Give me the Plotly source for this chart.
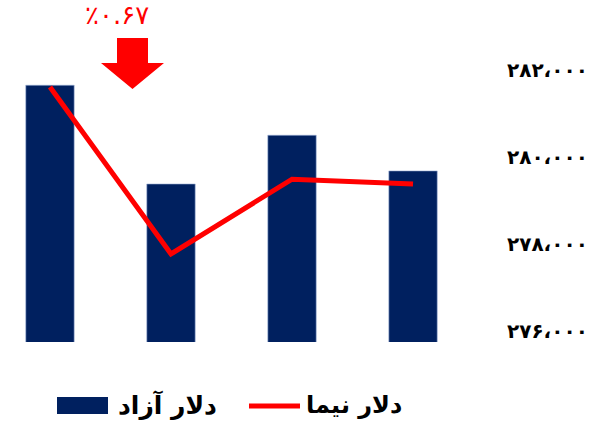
import plotly.graph_objects as go

# Four consecutive periods
periods = [0, 1, 2, 3]

# Free-market dollar (bars) and NIMA dollar (line), in rials
azad_values = [281650, 279380, 280500, 279680]
nima_values = [281610, 277770, 279490, 279380]

# Right-axis ticks
tick_values = [276000, 278000, 280000, 282000]
tick_labels = ["۲۷۶،۰۰۰", "۲۷۸،۰۰۰", "۲۸۰،۰۰۰", "۲۸۲،۰۰۰"]

legend_names = ["دلار آزاد", "دلار نیما"]
change_label = "٪۰.۶۷"

NAVY = "#00205F"
RED = "#FF0000"

W, H = 602, 433
L, R, T, B = 0, 490, 40, 342  # plot area in pixels


def px(x):
    return (x - L) / (R - L)


def py(y):
    return (B - y) / (B - T)


fig = go.Figure()
fig.add_trace(go.Bar(
    x=periods, y=azad_values, width=0.4, name=legend_names[0],
    marker=dict(color=NAVY, line=dict(color="#9FB3D8", width=0.6)),
    showlegend=False,
))
fig.add_trace(go.Scatter(
    x=periods, y=nima_values, mode="lines", name=legend_names[1],
    line=dict(color=RED, width=5),
    showlegend=False,
))

# Down arrow marking the drop
arrow_pts = [(117, 38), (148, 38), (148, 63), (164, 63), (132.5, 89), (101, 63), (117, 63)]
path = "M " + " L ".join(f"{px(x):.5f},{py(y):.5f}" for x, y in arrow_pts) + " Z"
shapes = [dict(type="path", xref="paper", yref="paper", path=path,
               fillcolor=RED, line=dict(width=0))]

# Legend keys
shapes.append(dict(type="rect", xref="paper", yref="paper",
                   x0=px(57), x1=px(108), y0=py(414), y1=py(397),
                   fillcolor=NAVY, line=dict(width=0)))
shapes.append(dict(type="line", xref="paper", yref="paper",
                   x0=px(249), x1=px(300), y0=py(406), y1=py(406),
                   line=dict(color=RED, width=5)))

annotations = [
    dict(text=change_label, xref="paper", yref="paper", x=px(117), y=py(15),
         showarrow=False, xanchor="center", yanchor="middle",
         font=dict(family="DejaVu Sans", size=26, color=RED)),
    dict(text=legend_names[0], xref="paper", yref="paper", x=px(167), y=py(405),
         showarrow=False, xanchor="center", yanchor="middle",
         font=dict(family="DejaVu Sans", size=25, color="black", weight="bold")),
    dict(text=legend_names[1], xref="paper", yref="paper", x=px(354), y=py(405),
         showarrow=False, xanchor="center", yanchor="middle",
         font=dict(family="DejaVu Sans", size=24, color="black", weight="bold")),
]

y_lo = 276000 - (B - 331) / 0.0435
y_hi = 276000 + (331 - T) / 0.0435

fig.update_layout(
    width=W, height=H, autosize=False,
    margin=dict(l=L, r=W - R, t=T, b=H - B, pad=0),
    paper_bgcolor="white", plot_bgcolor="white",
    showlegend=False,
    xaxis=dict(range=[-0.413, 3.636], visible=False, fixedrange=True),
    yaxis=dict(range=[y_lo, y_hi], side="right", tickvals=tick_values,
               ticktext=tick_labels, showgrid=False, zeroline=False,
               showline=False, ticks="", ticklabelstandoff=16,
               tickfont=dict(family="DejaVu Sans", size=20, color="black", weight="bold")),
    shapes=shapes,
    annotations=annotations,
)

fig.write_html("out.html", config={"displayModeBar": False})
